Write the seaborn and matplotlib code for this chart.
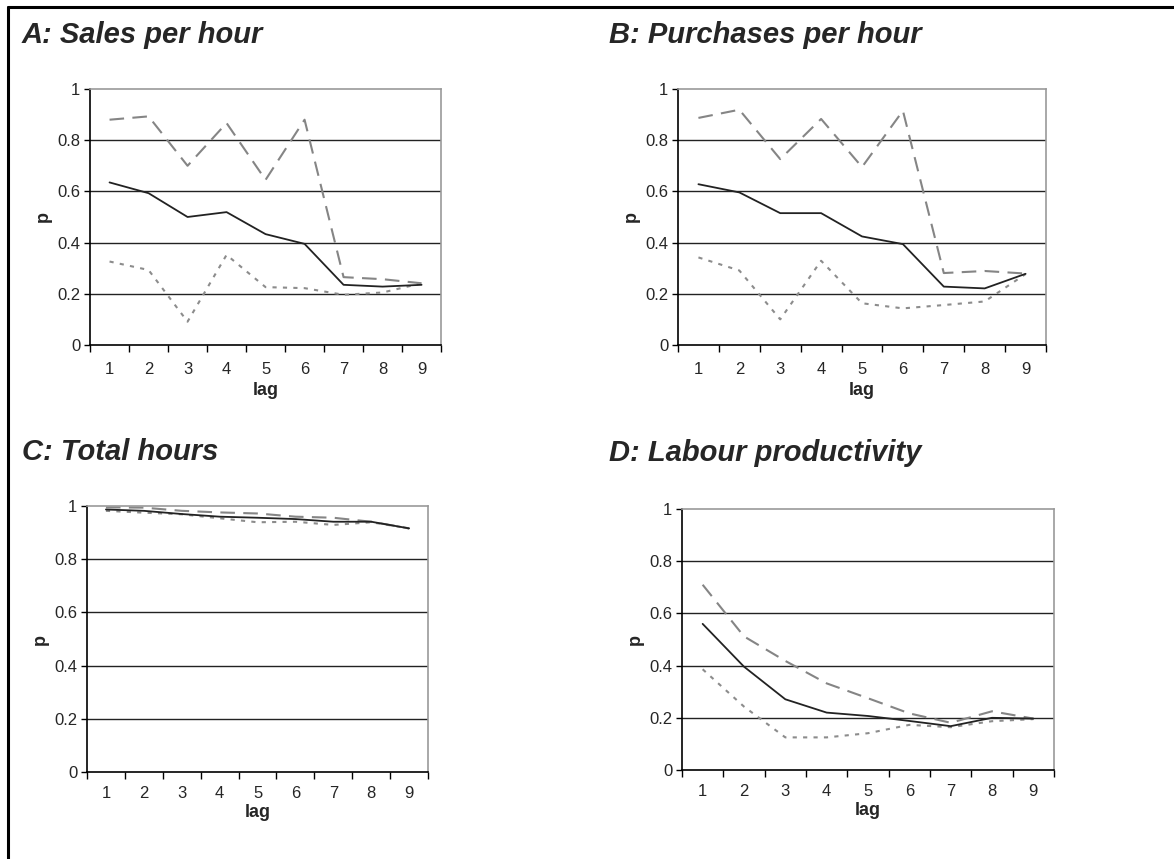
import numpy as np
import pandas as pd
import seaborn as sns
import matplotlib.pyplot as plt
from matplotlib.lines import Line2D

lags = [1, 2, 3, 4, 5, 6, 7, 8, 9]

# A: Sales per hour
a_solid = [0.635, 0.593, 0.500, 0.519, 0.433, 0.395, 0.235, 0.228, 0.235]
a_dash = [0.880, 0.893, 0.700, 0.867, 0.645, 0.880, 0.265, 0.257, 0.241]
a_dot = [0.326, 0.293, 0.091, 0.352, 0.226, 0.222, 0.196, 0.205, 0.241]

# B: Purchases per hour
b_solid = [0.628, 0.596, 0.515, 0.515, 0.424, 0.394, 0.228, 0.221, 0.278]
b_dash = [0.887, 0.919, 0.726, 0.883, 0.695, 0.915, 0.281, 0.289, 0.279]
b_dot = [0.342, 0.291, 0.100, 0.329, 0.163, 0.143, 0.156, 0.170, 0.277]

# C: Total hours
c_solid = [0.987, 0.982, 0.970, 0.960, 0.956, 0.951, 0.941, 0.941, 0.916]
c_dash = [0.995, 0.994, 0.982, 0.976, 0.972, 0.960, 0.956, 0.941, 0.916]
c_dot = [0.982, 0.975, 0.969, 0.954, 0.939, 0.941, 0.929, 0.939, 0.916]

# D: Labour productivity
d_solid = [0.560, 0.396, 0.271, 0.220, 0.207, 0.188, 0.168, 0.200, 0.197]
d_dash = [0.710, 0.512, 0.418, 0.332, 0.275, 0.217, 0.181, 0.225, 0.197]
d_dot = [0.386, 0.243, 0.125, 0.125, 0.141, 0.173, 0.164, 0.187, 0.195]

titles = ["A: Sales per hour", "B: Purchases per hour", "C: Total hours", "D: Labour productivity"]
panels = [(a_solid, a_dash, a_dot), (b_solid, b_dash, b_dot),
          (c_solid, c_dash, c_dot), (d_solid, d_dash, d_dot)]

sns.set_theme(style="white")
plt.rcParams['font.family'] = ['Liberation Sans', 'DejaVu Sans']

fig = plt.figure(figsize=(11.74, 8.59), dpi=100)

# axes boxes [left, bottom, width, height] in figure fractions
boxes = [
    [0.0767, 0.5984, 0.2990, 0.2980],
    [0.5775, 0.5984, 0.3135, 0.2980],
    [0.0741, 0.1013, 0.2905, 0.3096],
    [0.5809, 0.1036, 0.3169, 0.3038],
]
title_pos = [(22, 35), (609, 35), (22, 452), (609, 453)]
lag_pad = [4, 4, 2, 2]
tick_pad = [12, 12, 10, 10]

for i, (box, (s, d, o)) in enumerate(zip(boxes, panels)):
    ax = fig.add_axes(box)
    df = pd.DataFrame({"lag": lags, "solid": s, "dash": d, "dot": o})
    sns.lineplot(data=df, x="lag", y="dash", ax=ax, color="#858585", lw=1.5,
                 linestyle=(0, (7, 4)))
    sns.lineplot(data=df, x="lag", y="dot", ax=ax, color="#8c8c8c", lw=1.5,
                 linestyle=(0, (2, 3)))
    sns.lineplot(data=df, x="lag", y="solid", ax=ax, color="#222222", lw=1.3)

    ax.set_xlim(0.5, 9.5)
    ax.set_ylim(0, 1)
    ax.set_yticks([0, 0.2, 0.4, 0.6, 0.8, 1.0])
    ax.set_yticklabels(["0", "0.2", "0.4", "0.6", "0.8", "1"])
    ax.set_xticks(np.arange(0.5, 10, 1))
    ax.set_xticklabels([])
    ax.set_xticks(lags, minor=True)
    ax.set_xticklabels([str(v) for v in lags], minor=True)
    ax.tick_params(axis="x", which="major", length=5, width=1, direction="out",
                   bottom=True, color="black")
    ax.tick_params(axis="x", which="minor", length=0, labelsize=12, pad=tick_pad[i])
    ax.tick_params(axis="y", length=4, width=1, direction="out", left=True,
                   color="black", labelsize=12, pad=3)
    for y in [0.2, 0.4, 0.6, 0.8]:
        ax.axhline(y, color="#222222", lw=1, zorder=0)
    ax.spines["left"].set_color("black")
    ax.spines["bottom"].set_color("black")
    ax.spines["top"].set_color("#999999")
    ax.spines["right"].set_color("#999999")
    for sp in ax.spines.values():
        sp.set_linewidth(1.2)
    ax.set_xlabel("lag", fontweight="bold", fontsize=13, labelpad=lag_pad[i])
    ax.set_ylabel("p", fontweight="bold", fontsize=13, labelpad=4)

    tx, ty = title_pos[i]
    fig.text(tx / 1174, 1 - ty / 859, titles[i], fontsize=21, fontweight="bold",
             fontstyle="italic", ha="left", va="center")

# outer frame (left and top edges)
fig.add_artist(Line2D([7.5 / 1174, 7.5 / 1174], [0, 1 - 6.5 / 859], color="black", lw=2.2))
fig.add_artist(Line2D([7.5 / 1174, 1], [1 - 6.5 / 859, 1 - 6.5 / 859], color="black", lw=2.2))

fig.savefig("out.png", dpi=100)
